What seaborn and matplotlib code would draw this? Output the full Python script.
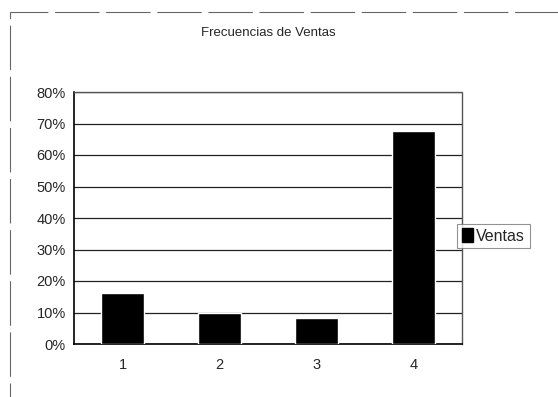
import matplotlib
matplotlib.use("Agg")
import matplotlib.pyplot as plt
import matplotlib.patches as mpatches
import seaborn as sns
import pandas as pd

categories = ["1", "2", "3", "4"]
ventas = [0.163, 0.098, 0.084, 0.675]
yticks = [0, 0.1, 0.2, 0.3, 0.4, 0.5, 0.6, 0.7, 0.8]
ytick_labels = ["0%", "10%", "20%", "30%", "40%", "50%", "60%", "70%", "80%"]
title = "Frecuencias de Ventas"
series_name = "Ventas"

df = pd.DataFrame({"cat": categories, "val": ventas})

sns.set_theme(style="white")
plt.rcParams["font.family"] = ["Liberation Sans", "DejaVu Sans"]

W, H = 558, 397
fig = plt.figure(figsize=(W / 100, H / 100), dpi=100)
fig.patch.set_facecolor("white")

left, right, top, bottom = 74, 462, 92, 344
ax = fig.add_axes([left / W, 1 - bottom / H, (right - left) / W, (bottom - top) / H])

sns.barplot(data=df, x="cat", y="val", color="black", width=0.44,
            saturation=1, ax=ax, zorder=3)

ax.set_ylim(0, 0.8)
ax.set_yticks(yticks)
ax.set_yticklabels(ytick_labels, fontsize=10.5)
ax.set_xlim(-0.5, 3.5)
ax.tick_params(axis="x", labelsize=10.5, pad=10, length=3, direction="in", color="black")
ax.tick_params(axis="y", length=3, direction="out", pad=3, color="black")
ax.set_xlabel("")
ax.set_ylabel("")
ax.yaxis.grid(True, color="#222222", linewidth=0.9, zorder=0)
ax.set_axisbelow(True)

for s in ["left", "bottom"]:
    ax.spines[s].set_color("black")
    ax.spines[s].set_linewidth(1.2)
for s in ["right", "top"]:
    ax.spines[s].set_color("#555555")
    ax.spines[s].set_linewidth(1.0)
    ax.spines[s].set_linestyle((0, (6, 1)))
ax.spines["right"].set_visible(True)
ax.spines["top"].set_visible(True)

fig.text(268 / W, 1 - 33 / H, title, ha="center", va="center", fontsize=9.5)

# legend
handles = [mpatches.Patch(facecolor="black", edgecolor="black", label=series_name)]
leg = fig.legend(handles=handles, loc="center left",
                 bbox_to_anchor=(457 / W, 1 - 236 / H), frameon=True, fontsize=11.5,
                 handlelength=0.7, handleheight=0.9, handletextpad=0.2,
                 borderpad=0.3, borderaxespad=0, fancybox=False)
leg.get_frame().set_edgecolor("#777777")
leg.get_frame().set_linewidth(0.8)

# outer chart border
border = mpatches.Rectangle((10 / W, -0.05), 1.0, 1 - 12 / H + 0.05,
                            transform=fig.transFigure, fill=False,
                            edgecolor="#666666", linewidth=0.8,
                            linestyle=(0, (40, 6)))
fig.patches.append(border)

fig.savefig("out.png", dpi=100, facecolor="white")
